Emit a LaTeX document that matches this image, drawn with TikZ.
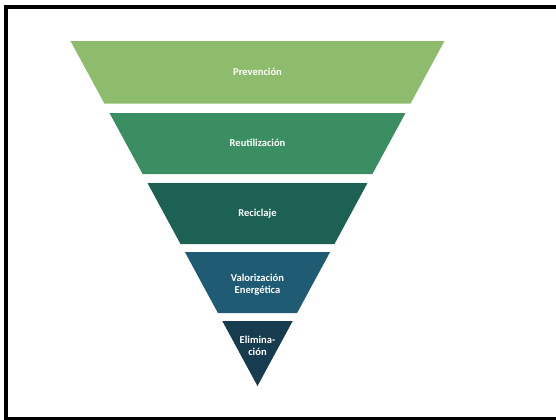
\documentclass[tikz,border=0pt]{standalone}
\usepackage{fontspec}
\setsansfont{Carlito}
\definecolor{prevencion}{HTML}{8DBD6C}
\definecolor{reutilizacion}{HTML}{3A8E62}
\definecolor{reciclaje}{HTML}{1D6054}
\definecolor{valorizacion}{HTML}{1F5B73}
\definecolor{eliminacion}{HTML}{173C50}
\tikzset{
  nivel/.style={align=center, text=white, inner sep=0pt,
    font=\sffamily\bfseries\fontsize{6}{7}\selectfont}
}

\begin{document}
\begin{tikzpicture}[x=0.02cm, y=-0.02cm]
         \useasboundingbox (0,0) rectangle (556,420);
         % marco
         \draw[line width=0.08cm] (6,6.5) rectangle (562,418.5);
         % Prevencion
         \fill[prevencion] (70.5,41) -- (444.5,41) -- (410.6,103.5) -- (104.4,103.5) -- cycle;
         \node[nivel] (prev) at (257.5,72) {Prevención};
         % Reutilizacion
         \fill[reutilizacion] (109.5,113) -- (405.5,113) -- (372.4,174) -- (142.6,174) -- cycle;
         \node[nivel] (reut) at (257.5,143) {Reutilización};
         % Reciclaje
         \fill[reciclaje] (147.5,183) -- (367.5,183) -- (334.5,244) -- (180.5,244) -- cycle;
         \node[nivel] (reci) at (257.5,214) {Reciclaje};
         % Valorizacion energetica
         \fill[valorizacion] (184.9,252) -- (330.1,252) -- (297.1,313) -- (217.9,313) -- cycle;
         \node[nivel] (valo) at (257.5,285) {Valorización\\Energética};
         % Eliminacion
         \fill[eliminacion] (222.3,321) -- (292.7,321) -- (257.5,386) -- cycle;
         \node[nivel] (elim) at (257.5,346) {Elimina-\\ción};
       \end{tikzpicture}
\end{document}
